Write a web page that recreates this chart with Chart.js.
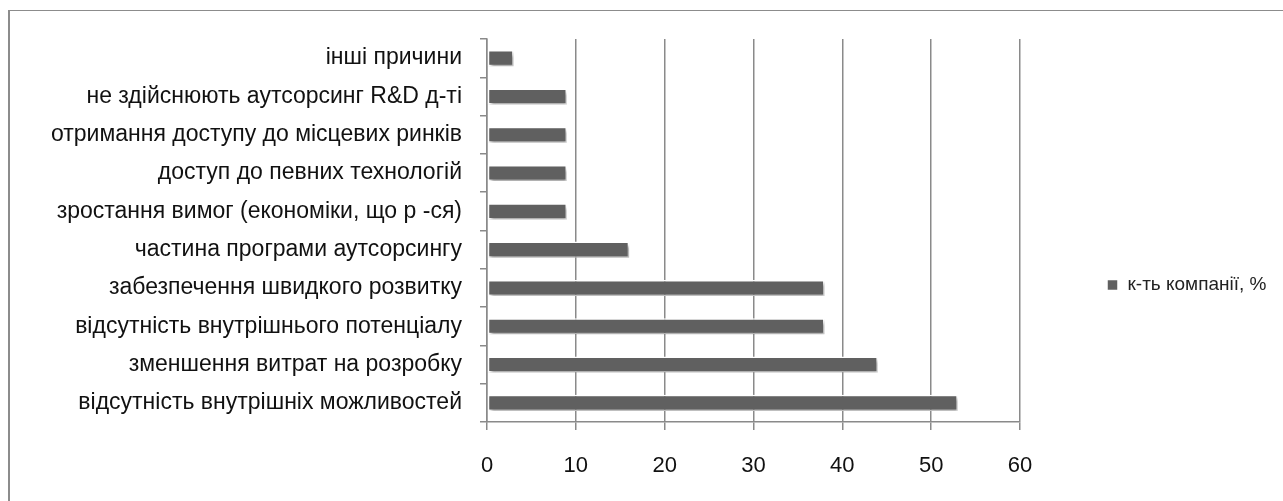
<!DOCTYPE html>
<html>
<head>
<meta charset="utf-8">
<script src="https://cdn.jsdelivr.net/npm/chart.js@4"></script>
<style>
  body { margin: 0; background: #fff; overflow: hidden; }
  #box {
    position: absolute; left: 8px; top: 10px;
    width: 1273px; height: 490px;
    border-left: 2px solid #8c8c8c; border-top: 1px solid #8c8c8c;
  }
</style>
</head>
<body>
<div id="box"><canvas id="reasonsChart"></canvas></div>
<script>
const categories = [
    'інші причини',
    'не здійснюють аутсорсинг R&D д-ті',
    'отримання доступу до місцевих ринків',
    'доступ до певних технологій',
    'зростання вимог (економіки, що р -ся)',
    'частина програми аутсорсингу',
    'забезпечення швидкого розвитку',
    'відсутність внутрішнього потенціалу',
    'зменшення витрат на розробку',
    'відсутність внутрішніх можливостей'
];
const companyShare = [3, 9, 9, 9, 9, 16, 38, 38, 44, 53];
const seriesLabel = 'к-ть компанії, %';
const xTicks = [0, 10, 20, 30, 40, 50, 60];

// тінь під смугами, як в Excel
const barShadow = {
    id: 'barShadow',
    beforeDatasetsDraw(chart) {
        const c = chart.ctx;
        c.save();
        c.shadowColor = 'rgba(0,0,0,0.35)';
        c.shadowOffsetX = 2;
        c.shadowOffsetY = 3;
        c.shadowBlur = 3;
    },
    afterDatasetsDraw(chart) {
        chart.ctx.restore();
    }
};

// легенда стоїть окремо праворуч, далеко від області графіка
const legendPlace = {
    id: 'legendPlace',
    beforeLayout(chart) {
        const lg = chart.legend;
        if (!lg || lg._wrapped) return;
        const fit = lg.fit;
        lg.fit = function () {
            fit.call(this);
            this.width = chart.width - 1010;
        };
        lg._wrapped = true;
    },
    afterLayout(chart) {
        const lg = chart.legend;
        const h = lg.bottom - lg.top;
        lg.left = 1087;
        lg.right = chart.width;
        lg.top = 274 - h / 2;
        lg.bottom = 274 + h / 2;
    }
};

const ctx = document.getElementById('reasonsChart').getContext('2d');

new Chart(ctx, {
    type: 'bar',
    data: {
        labels: categories,
        datasets: [{
            label: seriesLabel,
            data: companyShare,
            backgroundColor: '#606060',
            borderColor: '#ffffff',
            borderWidth: 1.5,
            borderSkipped: false,
            categoryPercentage: 1,
            barPercentage: 0.42
        }]
    },
    options: {
        responsive: true,
        maintainAspectRatio: false,
        animation: false,
        indexAxis: 'y',
        layout: { padding: { top: 28, right: 0, bottom: 0, left: 0 } },
        plugins: {
            legend: {
                position: 'right',
                labels: {
                    boxWidth: 11, boxHeight: 11,
                    font: { family: 'Liberation Sans', size: 19 },
                    color: '#222'
                }
            },
            tooltip: { enabled: false }
        },
        scales: {
            x: {
                min: 0, max: 60,
                afterBuildTicks: (axis) => { axis.ticks = xTicks.map(v => ({ value: v })); },
                afterFit: (axis) => { axis.height = 79; },
                grid: { color: '#8a8a8a', lineWidth: 1.5, tickLength: 8 },
                border: { color: '#8a8a8a', width: 1.5 },
                ticks: {
                    padding: 23,
                    font: { family: 'Liberation Sans', size: 22 },
                    color: '#111'
                }
            },
            y: {
                afterFit: (axis) => {
                    axis.width = 477;
                    axis.paddingTop = 0;
                    axis.paddingBottom = 0;
                },
                grid: { drawOnChartArea: false, color: '#8a8a8a', lineWidth: 1.5, tickLength: 7 },
                border: { color: '#8a8a8a', width: 1.5 },
                ticks: {
                    padding: 18,
                    font: { family: 'Liberation Sans', size: 23 },
                    color: '#111'
                }
            }
        }
    },
    plugins: [barShadow, legendPlace]
});
</script>
</body>
</html>
